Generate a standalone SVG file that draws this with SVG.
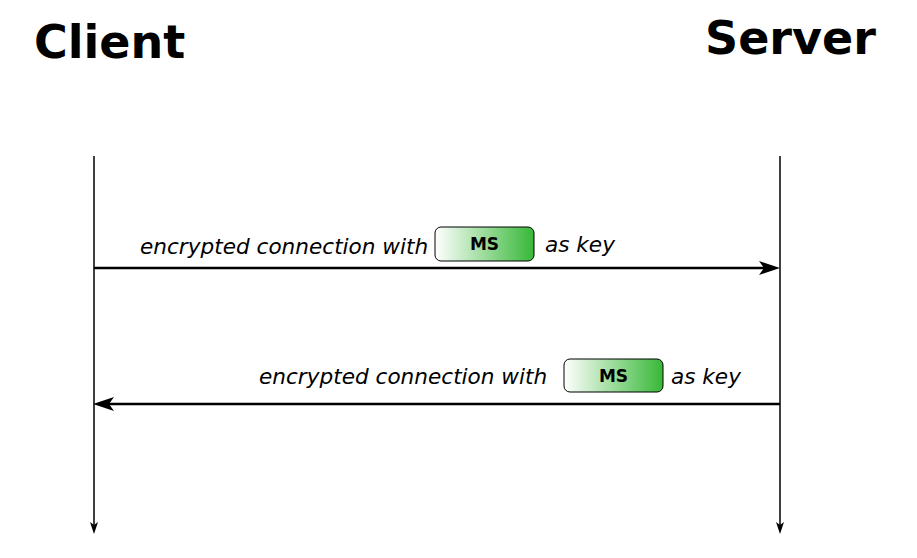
<svg xmlns="http://www.w3.org/2000/svg" width="917" height="558" viewBox="0 0 917 558">
<style>
.title{font-family:"DejaVu Sans",sans-serif;font-weight:bold;font-size:46px;fill:#000}
.lbl{font-family:"DejaVu Sans",sans-serif;font-style:italic;font-size:21.6px;fill:#000}
.ms{font-family:"DejaVu Sans",sans-serif;font-weight:bold;font-size:17px;fill:#000}
.box{fill:url(#g);stroke:#000;stroke-width:1}
.life{stroke:#000;stroke-width:1.5;fill:none}
.msg{stroke:#000;stroke-width:2.6;fill:none}
</style>
<defs>
<linearGradient id="g" x1="0" y1="0" x2="1" y2="0">
<stop offset="0" stop-color="#ffffff"/>
<stop offset="1" stop-color="#37b837"/>
</linearGradient>
</defs>
<rect width="917" height="558" fill="#fff"/>
<g id="client">
<text class="title" x="34" y="58">Client</text>
<line class="life" x1="94" y1="156" x2="94" y2="526"/>
<path d="M94,534 L90,522 L94,525 L98,522 Z" fill="#000"/>
</g>
<g id="server">
<text class="title" x="705" y="54">Server</text>
<line class="life" x1="780" y1="156" x2="780" y2="526"/>
<path d="M780,534 L776,522 L780,525 L784,522 Z" fill="#000"/>
</g>
<g id="connectors">
<g id="msg1">
<line class="msg" x1="94" y1="268" x2="770" y2="268"/>
<path d="M780,268 L759,261 L764,268 L759,275 Z" fill="#000"/>
<text class="lbl" x="140" y="254">encrypted connection with</text>
<text class="lbl" x="545" y="252">as key</text>
</g>
<g id="msg2">
<line class="msg" x1="780" y1="404" x2="104" y2="404"/>
<path d="M93,404 L114,397 L109,404 L114,411 Z" fill="#000"/>
<text class="lbl" x="259" y="384">encrypted connection with</text>
<text class="lbl" x="671" y="384">as key</text>
</g>
</g>
<g id="ms1">
<rect class="box" x="435" y="227" width="99" height="34" rx="6"/>
<text class="ms" x="484.5" y="250" text-anchor="middle">MS</text>
</g>
<g id="ms2">
<rect class="box" x="564" y="359" width="99" height="33" rx="6"/>
<text class="ms" x="613.5" y="382" text-anchor="middle">MS</text>
</g>
</svg>
